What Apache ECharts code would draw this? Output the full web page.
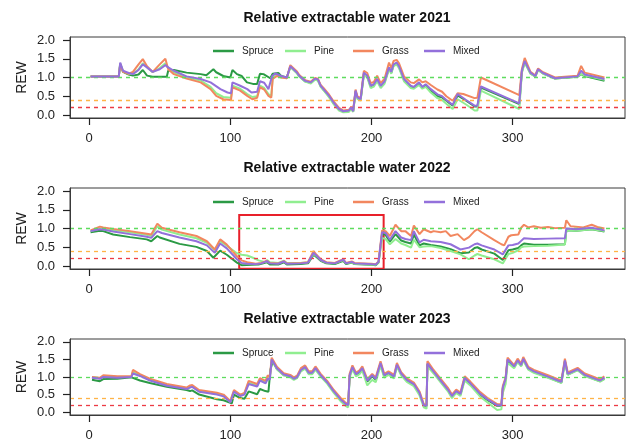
<!DOCTYPE html>
<html><head><meta charset="utf-8">
<script src="https://cdn.jsdelivr.net/npm/echarts@6/dist/echarts.min.js"></script>
<style>html,body{margin:0;padding:0;background:#fff}#c{width:626px;height:442px}</style>
</head><body><div id="c"></div>
<script>
const years = ['2021','2022','2023'];
const seriesNames = ['Spruce','Pine','Grass','Mixed'];
const xTicks = [0,100,200,300];
const yTicks = [0,0.5,1,1.5,2];
const thresholds = [1.0,0.4,0.2];
const highlight2022 = [[106.3,1.36],[208.6,-0.07]];

// ---- 2021 ----
const spruce2021 = [[1,1.03],[21,1.03],[22,1.35],[24,1.15],[28,1.08],[31,1.05],[35,1.08],[38,1.2],[41,1.05],[45,1.02],[55,1.02],[56,1.18],[60,1.2],[69,1.13],[79,1.09],[83,1.06],[88,1.22],[90,1.14],[95,1.04],[100,1.0],[101.5,1.2],[104.7,1.09],[108,1.04],[111.8,0.87],[116,0.83],[119,0.83],[121,1.1],[123.5,1.09],[128.3,0.98],[130,1.1],[134,1.12],[136,1.04],[140,1.0],[142.5,1.29],[147,1.13],[149,1.03],[153,0.9],[157,0.86],[160,0.96],[162,0.94],[164,0.77],[166,0.68],[170,0.5],[173,0.33],[177,0.15],[180,0.09],[184,0.11],[185.6,0.19],[187,0.09],[188.7,0.63],[190,0.46],[192.3,0.41],[194.6,1.1],[197,1.03],[199.4,0.76],[201.7,0.8],[204,0.94],[206.5,0.76],[209.3,0.88],[212.4,1.25],[214,1.13],[215.6,1.33],[217.8,1.38],[219.5,1.28],[223,0.94],[227.8,0.76],[230,0.73],[233.7,0.85],[236,0.73],[238.4,0.8],[242,0.66],[246.7,0.5],[250,0.47],[253,0.38],[257.5,0.25],[261,0.52],[267,0.38],[273,0.23],[275,0.23],[277.5,0.73],[304.7,0.29],[306.5,1.15],[308.5,1.42],[312.6,1.11],[316,1.03],[318,1.21],[321.5,1.11],[330,0.97],[346,1.02],[348.5,1.09],[351,1.04],[365,0.91]];
const pine2021 = [[1,1.03],[21,1.03],[22,1.38],[24,1.17],[28,1.1],[31,1.1],[35,1.22],[38,1.38],[41,1.27],[45,1.14],[50,1.25],[54,1.38],[56,1.25],[60,1.14],[69,1.0],[79,0.92],[86,0.75],[90,0.58],[95,0.48],[100.5,0.46],[101.5,0.78],[107,0.7],[112,0.56],[115.6,0.48],[119,0.5],[121,0.78],[124,0.72],[127,0.56],[129,0.5],[130,1.0],[133,1.07],[136,1.01],[140,0.98],[142.5,1.28],[147,1.12],[149,1.02],[153,0.89],[157,0.84],[160,0.94],[162,0.92],[164,0.75],[166,0.66],[170,0.47],[173,0.3],[177,0.12],[180,0.07],[184,0.08],[185.6,0.16],[187,0.08],[188.7,0.6],[190,0.43],[192.3,0.38],[194.6,1.07],[197,1.0],[199.4,0.72],[201.7,0.76],[204,0.9],[206.5,0.72],[209.3,0.84],[212.4,1.22],[214,1.1],[215.6,1.3],[217.8,1.35],[219.5,1.25],[223,0.9],[227.8,0.72],[230,0.7],[233.7,0.8],[236,0.7],[238.4,0.75],[242,0.6],[246.7,0.45],[250,0.4],[253,0.3],[257.5,0.16],[261,0.42],[267,0.28],[273,0.12],[275,0.12],[277.5,0.65],[304.7,0.16],[306.5,1.12],[308.5,1.4],[312.6,1.1],[316,1.02],[318,1.2],[321.5,1.1],[330,0.97],[346,1.02],[348.5,1.1],[351,1.05],[365,0.94]];
const grass2021 = [[1,1.03],[21,1.03],[22,1.35],[24,1.15],[28,1.1],[31,1.15],[35,1.35],[38,1.49],[41,1.3],[45,1.15],[50,1.35],[54,1.5],[56,1.22],[60,1.09],[69,0.97],[79,0.87],[86,0.69],[90,0.51],[95,0.42],[100.5,0.4],[101.5,0.74],[107,0.65],[112,0.51],[115.6,0.42],[119,0.46],[121,0.74],[124,0.68],[127,0.51],[129,0.46],[130,0.96],[133,1.04],[136,1.0],[140,0.98],[142.5,1.33],[147,1.17],[149,1.06],[153,0.93],[157,0.89],[160,0.99],[162,0.97],[164,0.8],[166,0.72],[170,0.54],[173,0.37],[177,0.19],[180,0.12],[184,0.14],[185.6,0.22],[187,0.12],[188.7,0.68],[190,0.5],[192.3,0.45],[194.6,1.18],[197,1.12],[199.4,0.85],[201.7,0.88],[204,1.05],[206.5,0.85],[209.3,0.97],[212.4,1.4],[214,1.25],[215.6,1.44],[217.8,1.47],[219.5,1.38],[223,1.03],[227.8,0.87],[230,0.85],[233.7,0.95],[236,0.87],[238.4,0.9],[242,0.8],[246.7,0.68],[250,0.62],[253,0.5],[257.5,0.38],[261,0.58],[265,0.56],[273,0.45],[275,0.46],[277.5,1.0],[304.7,0.53],[306.5,1.22],[308.5,1.52],[312.6,1.15],[316,1.06],[318,1.24],[321.5,1.14],[330,1.0],[346,1.05],[348.5,1.31],[351,1.13],[365,1.0]];
const mixed2021 = [[1,1.03],[21,1.03],[22,1.4],[24,1.18],[28,1.12],[31,1.09],[35,1.2],[38,1.35],[41,1.27],[45,1.15],[50,1.22],[54,1.33],[56,1.27],[60,1.18],[69,1.03],[79,0.96],[86,0.87],[93,0.69],[98,0.6],[100.5,0.58],[101.5,0.87],[107,0.78],[112,0.69],[115,0.6],[119,0.62],[121,0.9],[124,0.86],[127,0.69],[129.6,1.04],[132,1.11],[136,1.04],[140,1.0],[142.5,1.3],[147,1.14],[149,1.04],[153,0.91],[157,0.87],[160,0.97],[162,0.95],[164,0.78],[166,0.69],[170,0.51],[173,0.34],[177,0.16],[180,0.1],[184,0.12],[185.6,0.2],[187,0.1],[188.7,0.65],[190,0.47],[192.3,0.42],[194.6,1.13],[197,1.05],[199.4,0.78],[201.7,0.82],[204,0.96],[206.5,0.78],[209.3,0.9],[212.4,1.27],[214,1.15],[215.6,1.35],[217.8,1.4],[219.5,1.3],[223,0.96],[227.8,0.78],[230,0.75],[233.7,0.87],[236,0.75],[238.4,0.82],[242,0.69],[246.7,0.55],[250,0.5],[253,0.4],[257.5,0.27],[261,0.56],[267,0.4],[273,0.25],[275,0.25],[277.5,0.76],[304.7,0.31],[306.5,1.18],[308.5,1.44],[312.6,1.13],[316,1.04],[318,1.22],[321.5,1.12],[330,0.98],[346,1.03],[348.5,1.18],[351,1.08],[365,0.96]];

// ---- 2022 ----
const spruce2022 = [[1,0.9],[7.6,0.94],[10,0.93],[17,0.84],[29,0.77],[40.8,0.71],[44,0.66],[48.3,0.8],[50,0.76],[64,0.59],[76,0.51],[83.4,0.4],[88,0.22],[92.8,0.41],[97.5,0.3],[104.7,0.09],[108,0.02],[115,0.03],[120,0.04],[126,0.1],[128,0.04],[134,0.04],[138,0.1],[140,0.04],[150,0.05],[155,0.07],[159,0.3],[161,0.24],[164,0.14],[168,0.07],[174,0.05],[180,0.14],[182,0.05],[186,0.09],[188,0.05],[195,0.04],[200,0.03],[203,0.02],[205,0.09],[206,0.04],[207.5,0.85],[210,0.83],[213,0.65],[217,0.85],[221,0.68],[224,0.64],[228,0.6],[230,0.84],[234,0.55],[237,0.6],[242,0.56],[249,0.52],[256,0.45],[263,0.34],[269,0.36],[273,0.48],[275,0.5],[278,0.44],[287,0.33],[293,0.16],[297,0.42],[300,0.44],[304,0.48],[306,0.55],[308,0.6],[315,0.57],[325,0.57],[337,0.58],[338,0.95],[345,0.94],[356,0.98],[365,0.92]];
const pine2022 = [[1,0.93],[7.6,1.0],[10,1.0],[17,0.96],[29,0.9],[40.8,0.83],[44,0.8],[48.3,1.06],[51.5,0.97],[64,0.84],[76,0.74],[83.4,0.62],[89,0.42],[92.8,0.66],[97.5,0.54],[104.7,0.34],[108,0.3],[112,0.28],[116,0.22],[120,0.15],[125,0.1],[126,0.16],[128,0.1],[134,0.08],[138,0.14],[140,0.08],[150,0.08],[155,0.1],[159,0.33],[161,0.27],[164,0.16],[168,0.09],[174,0.07],[180,0.16],[182,0.07],[186,0.1],[188,0.06],[195,0.05],[200,0.04],[203,0.03],[205,0.1],[206,0.05],[207.5,0.75],[210,0.72],[213,0.58],[217,0.72],[221,0.6],[224,0.56],[228,0.49],[230,0.7],[234,0.5],[237,0.52],[242,0.53],[249,0.48],[256,0.4],[263,0.31],[269,0.18],[273,0.28],[275,0.32],[278,0.28],[287,0.18],[293,0.07],[297,0.32],[300,0.35],[304,0.42],[306,0.5],[308,0.52],[315,0.53],[325,0.54],[337,0.57],[338,0.95],[345,0.94],[356,0.98],[365,0.93]];
const grass2022 = [[1,0.95],[7.6,1.05],[10,1.03],[17,0.99],[29,0.93],[40.8,0.86],[44,0.84],[48.3,1.13],[51.5,1.02],[64,0.9],[76,0.8],[83.4,0.66],[89,0.44],[92.8,0.71],[97.5,0.57],[104.7,0.26],[108,0.15],[112,0.1],[118,0.06],[122,0.08],[126,0.14],[128,0.08],[134,0.07],[138,0.13],[140,0.07],[150,0.08],[155,0.1],[159,0.4],[161,0.3],[164,0.18],[168,0.1],[174,0.08],[180,0.18],[182,0.08],[186,0.12],[188,0.08],[195,0.07],[200,0.06],[203,0.05],[205,0.12],[206,0.07],[207.5,0.95],[210,0.93],[213,0.8],[217,1.1],[221,0.93],[224,0.93],[228,0.8],[230,1.08],[234,0.85],[237,0.98],[242,0.9],[244,0.93],[249,0.9],[252.6,0.93],[256,0.8],[261,0.85],[265.5,0.69],[269,0.77],[273,0.93],[275,0.98],[278,0.9],[287,0.69],[292,0.58],[294,0.55],[297,0.78],[299,0.82],[304,0.84],[306,1.02],[308,1.1],[311,1.03],[315,1.06],[320,1.02],[325,1.04],[330,1.01],[337,1.02],[338,1.22],[341,1.06],[350,1.03],[356,1.1],[360,1.04],[365,1.0]];
const mixed2022 = [[1,0.93],[7.6,0.98],[10,0.97],[17,0.92],[29,0.85],[40.8,0.78],[44,0.75],[48.3,0.93],[51.5,0.88],[64,0.76],[76,0.66],[83.4,0.55],[89,0.35],[92.8,0.6],[97.5,0.47],[104.7,0.18],[108,0.08],[112,0.06],[118,0.05],[122,0.07],[126,0.13],[128,0.07],[134,0.06],[138,0.12],[140,0.06],[150,0.07],[155,0.09],[159,0.35],[161,0.28],[164,0.16],[168,0.09],[174,0.07],[180,0.17],[182,0.07],[186,0.11],[188,0.07],[195,0.06],[200,0.05],[203,0.04],[205,0.11],[206,0.06],[207.5,0.9],[210,0.88],[213,0.7],[217,0.93],[221,0.76],[224,0.72],[228,0.69],[230,0.93],[234,0.63],[237,0.7],[242,0.66],[249,0.64],[256,0.58],[263,0.44],[269,0.49],[273,0.58],[275,0.6],[278,0.55],[287,0.44],[293,0.31],[297,0.55],[300,0.56],[304,0.6],[306,0.67],[308,0.74],[315,0.72],[325,0.73],[337,0.74],[338,1.0],[345,0.98],[356,1.02],[365,0.95]];

// ---- 2023 ----
const spruce2023 = [[2,0.92],[7.6,0.88],[10,0.94],[20,0.95],[30,0.99],[31,1.0],[36,0.9],[43,0.83],[55,0.72],[69,0.63],[71.5,0.6],[73,0.62],[77.9,0.5],[90.5,0.37],[95.2,0.34],[101,0.25],[102.6,0.5],[107,0.4],[110,0.38],[113,0.59],[119,0.51],[121,0.66],[124.8,0.6],[127,0.58],[128.4,1.2],[130,1.45],[133,1.23],[137.8,1.06],[142.5,1.01],[145,0.94],[147.3,0.99],[150,1.19],[153,1.27],[155.5,1.11],[158,1.11],[160.3,1.24],[164,1.04],[168.6,0.84],[173.3,0.58],[178,0.36],[181.6,0.23],[183.5,0.19],[184.5,1.03],[186.5,1.26],[189,1.06],[191.5,1.13],[193.5,1.23],[197,0.87],[200.5,1.02],[203,0.92],[206.4,1.38],[209,1.03],[212,1.1],[216,1.0],[218,1.33],[221,1.08],[225,0.9],[230,0.78],[234,0.53],[237,0.19],[239,0.17],[239.6,1.36],[244,1.13],[249,0.88],[254,0.63],[257,0.44],[260,0.58],[263,0.5],[266,0.95],[270,0.8],[277,0.5],[282,0.35],[289,0.18],[292,0.18],[293,0.68],[295,0.93],[296.4,1.48],[301,1.28],[303.5,1.45],[306,1.32],[307.5,1.5],[311,1.23],[315,1.14],[325,0.99],[332,0.88],[334.5,0.84],[337,1.45],[339,1.07],[346,1.2],[351,1.04],[359,0.92],[362,0.88],[365,0.95]];
const pine2023 = [[2,0.99],[7.6,0.96],[10,1.02],[20,1.0],[30,1.01],[31,1.14],[36,1.05],[43,0.92],[55,0.77],[69,0.68],[71.5,0.73],[73,0.74],[77.9,0.6],[90.5,0.52],[95.2,0.47],[100,0.3],[102.6,0.6],[107,0.48],[110,0.52],[113,0.84],[119,0.76],[121,0.92],[125,0.85],[126.5,0.98],[128,0.95],[129.3,1.5],[133,1.22],[137.8,1.04],[142.5,0.99],[145,0.92],[147.3,0.97],[150,1.16],[153,1.24],[155.5,1.08],[158,1.08],[160.3,1.21],[164,1.01],[168.6,0.81],[173.3,0.55],[178,0.32],[181.6,0.18],[183.5,0.14],[184.5,0.98],[186.5,1.22],[189,1.02],[191.5,1.08],[193.5,1.18],[197,0.76],[200.5,0.92],[203,0.85],[206.4,1.32],[209,0.98],[212,1.06],[216,0.96],[218,1.3],[221,1.05],[225,0.86],[230,0.74],[234,0.48],[237,0.14],[239,0.1],[239.6,1.3],[244,1.1],[249,0.85],[254,0.6],[257,0.4],[260,0.55],[263,0.46],[266,0.9],[270,0.76],[277,0.44],[282,0.28],[289,0.06],[292,0.08],[293,0.55],[295,0.8],[296.4,1.4],[301,1.25],[303.5,1.42],[306,1.3],[307.5,1.47],[311,1.21],[315,1.12],[325,0.98],[332,0.87],[334.5,0.83],[337,1.42],[339,1.06],[346,1.19],[351,1.03],[359,0.91],[362,0.87],[365,0.94]];
const grass2023 = [[2,1.0],[7.6,0.98],[10,1.05],[20,1.02],[30,1.03],[31,1.2],[36,1.08],[43,0.95],[55,0.8],[69,0.7],[71.5,0.76],[73,0.77],[77.9,0.63],[90.5,0.55],[95.2,0.5],[100,0.32],[102.6,0.63],[107,0.5],[110,0.55],[113,0.89],[119,0.8],[121,0.97],[125,0.89],[126.5,1.05],[128,1.0],[129.3,1.55],[133,1.29],[137.8,1.11],[142.5,1.06],[145,0.99],[147.3,1.04],[150,1.25],[153,1.33],[155.5,1.16],[158,1.16],[160.3,1.3],[164,1.09],[168.6,0.89],[173.3,0.63],[178,0.41],[181.6,0.27],[183.5,0.22],[184.5,1.09],[186.5,1.33],[189,1.12],[191.5,1.19],[193.5,1.3],[197,0.94],[200.5,1.09],[203,0.99],[206.4,1.45],[209,1.09],[212,1.16],[216,1.06],[218,1.4],[221,1.14],[225,0.96],[230,0.84],[234,0.59],[237,0.23],[239,0.2],[239.6,1.45],[244,1.2],[249,0.95],[254,0.7],[257,0.5],[260,0.64],[263,0.56],[266,1.02],[270,0.87],[277,0.57],[282,0.41],[289,0.23],[292,0.22],[293,0.74],[295,0.99],[296.4,1.55],[301,1.34],[303.5,1.52],[306,1.38],[307.5,1.57],[311,1.29],[315,1.2],[325,1.05],[332,0.94],[334.5,0.9],[337,1.52],[339,1.13],[346,1.26],[351,1.1],[359,0.98],[362,0.94],[365,1.02]];
const mixed2023 = [[2,0.98],[7.6,0.95],[10,1.0],[20,0.98],[30,1.0],[31,1.1],[36,1.03],[43,0.9],[55,0.75],[69,0.66],[71.5,0.7],[73,0.72],[77.9,0.58],[90.5,0.5],[95.2,0.45],[100,0.28],[102.6,0.58],[107,0.46],[110,0.5],[113,0.8],[119,0.73],[121,0.9],[125,0.82],[126.5,0.95],[128,0.93],[129.3,1.5],[133,1.25],[137.8,1.07],[142.5,1.02],[145,0.95],[147.3,1.0],[150,1.2],[153,1.28],[155.5,1.12],[158,1.12],[160.3,1.25],[164,1.05],[168.6,0.85],[173.3,0.59],[178,0.37],[181.6,0.24],[183.5,0.2],[184.5,1.05],[186.5,1.28],[189,1.08],[191.5,1.15],[193.5,1.25],[197,0.9],[200.5,1.05],[203,0.95],[206.4,1.4],[209,1.05],[212,1.12],[216,1.02],[218,1.35],[221,1.1],[225,0.92],[230,0.8],[234,0.55],[237,0.2],[239,0.18],[239.6,1.38],[244,1.15],[249,0.9],[254,0.65],[257,0.46],[260,0.6],[263,0.52],[266,0.97],[270,0.82],[277,0.52],[282,0.37],[289,0.2],[292,0.2],[293,0.7],[295,0.95],[296.4,1.5],[301,1.3],[303.5,1.47],[306,1.34],[307.5,1.52],[311,1.25],[315,1.16],[325,1.01],[332,0.9],[334.5,0.86],[337,1.47],[339,1.09],[346,1.22],[351,1.06],[359,0.94],[362,0.9],[365,0.98]];

const dataByYear = [
  [spruce2021, pine2021, grass2021, mixed2021],
  [spruce2022, pine2022, grass2022, mixed2022],
  [spruce2023, pine2023, grass2023, mixed2023]
];

const colors = ['#2b9a45','#90ee90','#f2875f','#9370db'];
const thrColors = ['#5edc5e','#ffb347','#ec3b44'];
const font = '"Liberation Sans", Arial, Helvetica, sans-serif';
const gridTops = [37, 188, 339];
const gridH = 81;
const legendTops = [46, 197, 348];
const legendLefts = [213, 285, 353, 424];
const titleTops = [11, 161, 312];

const chart = echarts.init(document.getElementById('c'), null, {renderer:'canvas'});
const grids = [], xAxes = [], yAxes = [], titles = [], legends = [], series = [];
years.forEach((yr, i) => {
  grids.push({left:70, right:1, top:gridTops[i], height:gridH, show:true, borderColor:'#3a3a3a', borderWidth:1, backgroundColor:'transparent', containLabel:false});
  xAxes.push({type:'value', gridIndex:i, min:-13.56, max:379.56, position:'bottom', z:20,
    axisLine:{show:true, onZero:false, lineStyle:{color:'#3a3a3a', width:1}}, splitLine:{show:false},
    axisTick:{show:true, inside:false, customValues:xTicks, length:7, lineStyle:{color:'#222', width:1.2}},
    axisLabel:{customValues:xTicks, margin:14, fontSize:13, color:'#222', fontFamily:font}});
  yAxes.push({type:'value', gridIndex:i, min:-0.08, max:2.08, position:'left', z:20, name:'REW', nameLocation:'middle', nameRotate:90, nameGap:41, nameMoveOverlap:false,
    nameTextStyle:{fontSize:14, color:'#222', fontFamily:font},
    axisLine:{show:true, onZero:false, lineStyle:{color:'#3a3a3a', width:1}}, splitLine:{show:false},
    axisTick:{show:true, inside:false, customValues:yTicks, length:7, lineStyle:{color:'#222', width:1.2}},
    axisLabel:{customValues:yTicks, margin:15, fontSize:13, color:'#222', fontFamily:font, formatter:v=>v.toFixed(1)}});
  titles.push({text:'Relative extractable water ' + yr, left:347, top:titleTops[i], textAlign:'center', padding:0,
    textStyle:{fontSize:14, fontWeight:'bold', color:'#111', fontFamily:font}});
  seriesNames.forEach((nm, k) => {
    legends.push({data:[nm], left:legendLefts[k], top:legendTops[i], padding:0, orient:'horizontal', icon:'rect', itemWidth:21, itemHeight:2.5,
      selectedMode:false, textStyle:{fontSize:10, color:'#222', fontFamily:font, padding:[0,0,0,3]}});
  });
  series.push({type:'line', name:'thr'+i, xAxisIndex:i, yAxisIndex:i, data:[], z:1, silent:true,
    markLine:{silent:true, symbol:['none','none'], label:{show:false},
      data: thresholds.map((t,k)=>({yAxis:t, lineStyle:{color:thrColors[k], type:[4,4], width:1.3}}))}});
  seriesNames.forEach((nm, k) => {
    series.push({type:'line', name:nm, xAxisIndex:i, yAxisIndex:i, data:dataByYear[i][k], showSymbol:false, symbol:'none',
      z:2+k, lineStyle:{width:2, color:colors[k]}, itemStyle:{color:colors[k]}, animation:false});
  });
});
series.push({type:'line', name:'box', xAxisIndex:1, yAxisIndex:1, data:[], z:10, silent:true,
  markArea:{silent:true, itemStyle:{color:'rgba(0,0,0,0)', borderColor:'#e8202a', borderWidth:2},
    data:[[{coord:highlight2022[0]},{coord:highlight2022[1]}]]}});

chart.setOption({animation:false, backgroundColor:'#fff', title:titles, legend:legends, grid:grids, xAxis:xAxes, yAxis:yAxes, series:series});
</script></body></html>
